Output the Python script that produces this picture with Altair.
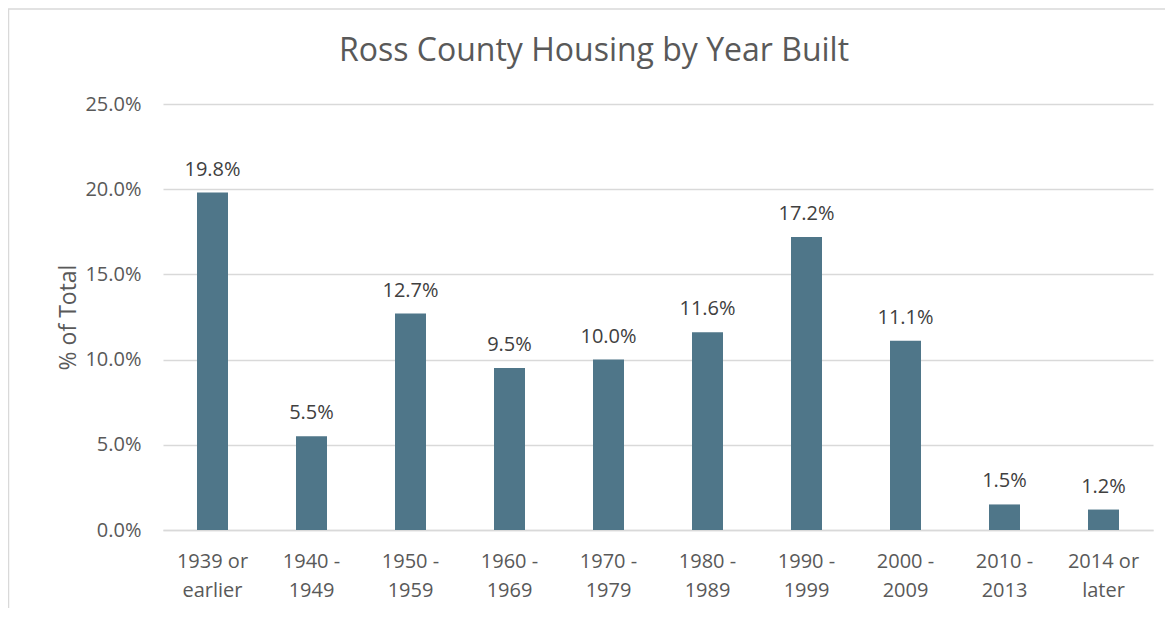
import altair as alt
import pandas as pd

categories = ["1939 or earlier", "1940 - 1949", "1950 - 1959", "1960 - 1969", "1970 - 1979",
              "1980 - 1989", "1990 - 1999", "2000 - 2009", "2010 - 2013", "2014 or later"]
values = [19.8, 5.5, 12.7, 9.5, 10.0, 11.6, 17.2, 11.1, 1.5, 1.2]
y_ticks = [0.0, 0.05, 0.10, 0.15, 0.20, 0.25]

df = pd.DataFrame({"cat": categories, "pct": [v / 100 for v in values]})

FONT = "Open Sans"
GREY = "#595959"
BAR = "#4f7689"

x_enc = alt.X("cat:N", sort=categories, title=None,
              scale=alt.Scale(paddingInner=0, paddingOuter=0),
              axis=alt.Axis(labelAngle=0, labelFont=FONT, labelFontSize=20, labelColor=GREY,
                            labelPadding=21, labelLineHeight=29, labelBaseline="top",
                            ticks=False, domain=True, domainColor="#d9d9d9", domainWidth=1.5,
                            labelExpr="[slice(datum.label, 0, lastindexof(datum.label, ' ')), slice(datum.label, lastindexof(datum.label, ' ') + 1)]"))
y_enc = alt.Y("pct:Q", title="% of Total",
              scale=alt.Scale(domain=[0, 0.25], nice=False),
              axis=alt.Axis(values=y_ticks, format=".1%", labelFont=FONT, labelFontSize=20,
                            labelColor=GREY, labelPadding=22, ticks=False, domain=False,
                            grid=True, gridColor="#d9d9d9", gridWidth=1.5,
                            titleFont=FONT, titleFontSize=23, titleColor=GREY,
                            titleFontWeight="normal", titlePadding=4))

base = alt.Chart(df).encode(x=x_enc, y=y_enc)
bars = base.mark_bar(size=31, color=BAR)
labels = base.mark_text(baseline="bottom", dy=-13, font=FONT, fontSize=20, color="#404040").encode(
    text=alt.Text("pct:Q", format=".1%"))

frame = alt.Chart(pd.DataFrame({"a": [0]})).mark_rect(
    fill=None, stroke="#d9d9d9", strokeWidth=1.5, clip=False).encode(
    x=alt.value(-154.5), x2=alt.value(1100), y=alt.value(-95), y2=alt.value(700))

chart = alt.layer(frame, bars, labels).properties(
    width=990, height=426,
    autosize=alt.AutoSizeParams(type="none"),
    padding={"left": 155, "top": 96, "right": 12, "bottom": 78},
    title=alt.TitleParams("Ross County Housing by Year Built", font=FONT, fontSize=32,
                          fontWeight="normal", color=GREY, anchor="middle", frame="group",
                          offset=-60, dx=-64),
).configure_view(stroke=None)

chart.save("out.html", embed_options={"renderer": "svg", "actions": False})
